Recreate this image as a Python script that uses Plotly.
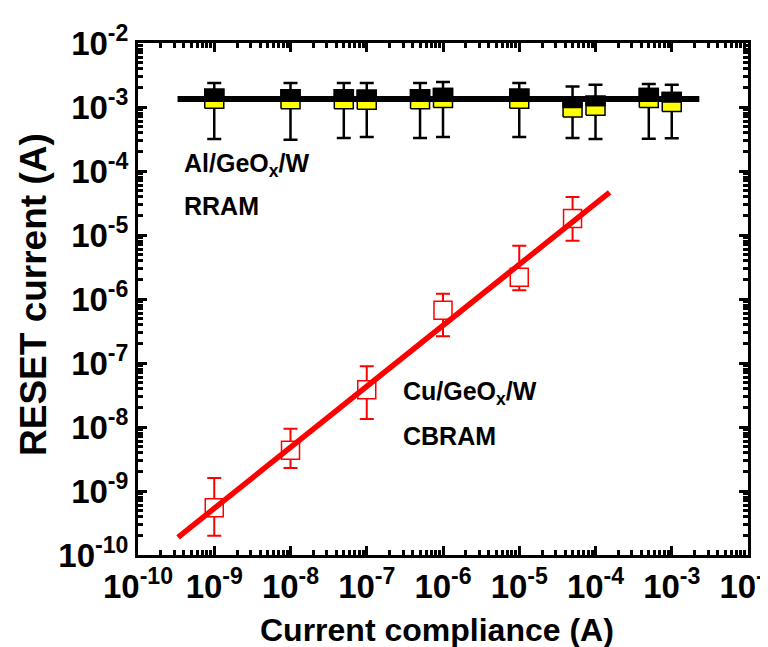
import math
import plotly.graph_objects as go

# ---------------- data ----------------
# Al/GeOx/W RRAM (black, half-filled squares)
rram_cc = [1e-9, 1e-8, 5e-8, 1e-7, 5e-7, 1e-6, 1e-5, 5e-5, 1e-4, 5e-4, 1e-3]
rram_mean = [1.35e-3, 1.32e-3, 1.32e-3, 1.30e-3, 1.32e-3, 1.38e-3, 1.34e-3, 0.98e-3, 1.05e-3, 1.38e-3, 1.20e-3]
rram_max = [2.37e-3, 2.37e-3, 2.37e-3, 2.37e-3, 2.37e-3, 2.46e-3, 2.37e-3, 2.10e-3, 2.23e-3, 2.29e-3, 2.23e-3]
rram_min = [3.16e-4, 3.08e-4, 3.28e-4, 3.40e-4, 3.28e-4, 3.40e-4, 3.40e-4, 3.28e-4, 3.16e-4, 3.20e-4, 3.24e-4]
rram_fit_x = [3.3e-10, 2.3e-3]
rram_fit_y = [1.33e-3, 1.33e-3]

# Cu/GeOx/W CBRAM (red open squares)
cb_cc = [1e-9, 1e-8, 1e-7, 1e-6, 1e-5, 5e-5]
cb_mean = [5.48e-10, 4.34e-9, 3.83e-8, 6.68e-7, 2.19e-6, 1.81e-5]
cb_max = [1.60e-9, 9.4e-9, 8.87e-8, 1.21e-6, 6.8e-6, 3.92e-5]
cb_min = [2.00e-10, 2.29e-9, 1.33e-8, 2.61e-7, 1.37e-6, 8.15e-6]
cb_fit_x = [3.35e-10, 1.53e-4]
cb_fit_y = [1.89e-10, 4.65e-5]

# axis decades and tick labels
tick_exps = [-10, -9, -8, -7, -6, -5, -4, -3, -2]
tick_labels = ["10<sup>-10</sup>", "10<sup>-9</sup>", "10<sup>-8</sup>", "10<sup>-7</sup>",
               "10<sup>-6</sup>", "10<sup>-5</sup>", "10<sup>-4</sup>", "10<sup>-3</sup>",
               "10<sup>-2</sup>"]
x_title = "Current compliance (A)"
y_title = "RESET current (A)"

# ---------------- styling ----------------
FONT = "Liberation Sans, Arial, sans-serif"
W, H = 768, 647
ML, MR, MT, MB = 130, 28, 35, 100
plot_w = W - ML - MR
plot_h = H - MT - MB
x_range_exp = [tick_exps[0], tick_exps[-1]]
y_range_exp = [tick_exps[0], tick_exps[-1]]
BOX_PX = 19  # marker box size in pixels
hx = (BOX_PX / 2) / (plot_w / (x_range_exp[1] - x_range_exp[0]))  # decades
hy = (BOX_PX / 2) / (plot_h / (y_range_exp[1] - y_range_exp[0]))

tickvals = [10.0 ** e for e in tick_exps]
minor_vals = [k * 10.0 ** e for e in tick_exps[:-1] for k in range(2, 10)]


def box_polys(xs, ys, top_half=False):
    px, py = [], []
    for x, y in zip(xs, ys):
        lx, ly = math.log10(x), math.log10(y)
        x0, x1 = 10 ** (lx - hx), 10 ** (lx + hx)
        y0 = 10 ** ly if top_half else 10 ** (ly - hy)
        y1 = 10 ** (ly + hy)
        px += [x0, x1, x1, x0, x0, None]
        py += [y0, y0, y1, y1, y0, None]
    return px, py


fig = go.Figure()

# RRAM whiskers
fig.add_trace(go.Scatter(
    x=rram_cc, y=rram_mean, mode="markers",
    marker=dict(size=1, color="rgba(0,0,0,0)"),
    error_y=dict(type="data", symmetric=False,
                 array=[mx - m for mx, m in zip(rram_max, rram_mean)],
                 arrayminus=[m - mn for m, mn in zip(rram_mean, rram_min)],
                 color="black", thickness=2.5, width=7),
    showlegend=False, hoverinfo="skip"))

# RRAM boxes (yellow square with black outline, top half black)
bx, by = box_polys(rram_cc, rram_mean)
fig.add_trace(go.Scatter(x=bx, y=by, mode="lines", fill="toself",
                         fillcolor="#FFFF00", line=dict(color="black", width=1.5),
                         showlegend=False, hoverinfo="skip"))
tx, ty = box_polys(rram_cc, rram_mean, top_half=True)
fig.add_trace(go.Scatter(x=tx, y=ty, mode="lines", fill="toself",
                         fillcolor="black", line=dict(color="black", width=1.5),
                         showlegend=False, hoverinfo="skip"))

# RRAM fit line
fig.add_trace(go.Scatter(x=rram_fit_x, y=rram_fit_y, mode="lines",
                         line=dict(color="black", width=6),
                         showlegend=False, hoverinfo="skip"))

# CBRAM whiskers
fig.add_trace(go.Scatter(
    x=cb_cc, y=cb_mean, mode="markers",
    marker=dict(size=1, color="rgba(0,0,0,0)"),
    error_y=dict(type="data", symmetric=False,
                 array=[mx - m for mx, m in zip(cb_max, cb_mean)],
                 arrayminus=[m - mn for m, mn in zip(cb_mean, cb_min)],
                 color="#FF0000", thickness=2, width=7),
    showlegend=False, hoverinfo="skip"))

# CBRAM open squares
fig.add_trace(go.Scatter(x=cb_cc, y=cb_mean, mode="markers",
                         marker=dict(symbol="square", size=18, color="white",
                                     line=dict(color="#FF0000", width=1.5)),
                         showlegend=False, hoverinfo="skip"))

# CBRAM fit line
fig.add_trace(go.Scatter(x=cb_fit_x, y=cb_fit_y, mode="lines",
                         line=dict(color="#FF0000", width=5.5),
                         showlegend=False, hoverinfo="skip"))

axis_common = dict(
    type="log", tickmode="array", tickvals=tickvals, ticktext=tick_labels,
    tickangle=0, ticklabeloverflow="allow",
    showline=True, linecolor="black", linewidth=3, mirror="ticks",
    ticks="inside", ticklen=9, tickwidth=3, tickcolor="black",
    showgrid=False, zeroline=False,
    minor=dict(ticks="inside", ticklen=5, tickwidth=2.5, tickcolor="black",
               tickmode="array", tickvals=minor_vals, showgrid=False),
    tickfont=dict(family=FONT, size=33, color="black", weight="bold"),
)

fig.update_xaxes(range=x_range_exp, **axis_common)
fig.update_yaxes(range=y_range_exp, **axis_common)


def px_to_paper(xp, yp):
    return (xp - ML) / plot_w, (H - MB - yp) / plot_h


# axis titles as positioned annotations
tx_, ty_ = px_to_paper(429, 622)
fig.add_annotation(x=tx_, y=ty_, xref="paper", yref="paper", text=x_title,
                   showarrow=False, xanchor="center", yanchor="middle",
                   font=dict(family=FONT, size=32, color="black", weight="bold"))
tx_, ty_ = px_to_paper(25, 287)
fig.add_annotation(x=tx_, y=ty_, xref="paper", yref="paper", text=y_title,
                   showarrow=False, xanchor="center", yanchor="middle", textangle=-90,
                   font=dict(family=FONT, size=37, color="black", weight="bold"))

ann_font = dict(family=FONT, size=25, color="black", weight="bold")
for text, (xp, yp) in [("Al/GeO<sub>x</sub>/W", (174, 157)),
                       ("RRAM", (174, 198)),
                       ("Cu/GeO<sub>x</sub>/W", (393, 385)),
                       ("CBRAM", (393, 428))]:
    ax, ay = px_to_paper(xp, yp)
    fig.add_annotation(x=ax, y=ay, xref="paper", yref="paper", text=text,
                       showarrow=False, xanchor="left", yanchor="middle",
                       font=ann_font)

fig.update_layout(
    width=W, height=H,
    margin=dict(l=ML, r=MR, t=MT, b=MB, autoexpand=False),
    paper_bgcolor="white", plot_bgcolor="white",
    showlegend=False,
)

fig.write_html("out.html")
